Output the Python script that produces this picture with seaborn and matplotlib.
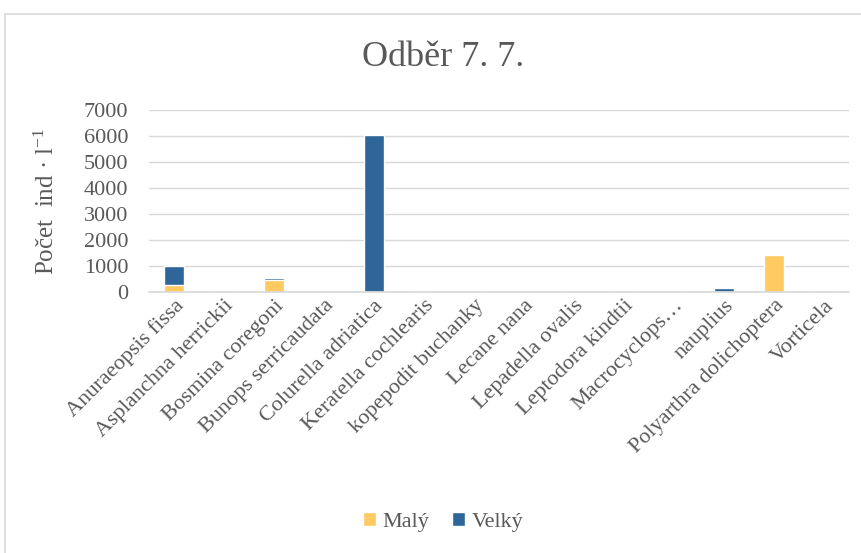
import pandas as pd
import matplotlib
matplotlib.use("Agg")
import matplotlib.pyplot as plt
import seaborn as sns
from matplotlib.patches import Rectangle, Patch


# =========================================
# Data
# =========================================

categories = [
    "Anuraeopsis fissa",
    "Asplanchna herrickii",
    "Bosmina coregoni",
    "Bunops serricaudata",
    "Colurella adriatica",
    "Keratella cochlearis",
    "kopepodit buchanky",
    "Lecane nana",
    "Lepadella ovalis",
    "Leptodora kindtii",
    "Macrocyclops…",
    "nauplius",
    "Polyarthra dolichoptera",
    "Vorticela",
]

maly = [260, 70, 480, 0, 0, 10, 0, 0, 0, 0, 5, 0, 1410, 5]
velky = [740, 30, 40, 0, 6040, 10, 0, 0, 0, 0, 5, 140, 50, 5]

df = pd.DataFrame({
    "druh": categories,
    "Malý": maly,
    "Velký": velky,
})
df["celkem"] = df["Malý"] + df["Velký"]

yellow = "#FFCA62"
blue = "#2E6699"
text_gray = "#595959"


# =========================================
# Style
# =========================================

sns.set_theme(style="white")
plt.rcParams["font.family"] = ["Liberation Serif", "DejaVu Serif"]
plt.rcParams["mathtext.fontset"] = "custom"
plt.rcParams["mathtext.rm"] = "Liberation Serif"
plt.rcParams["mathtext.it"] = "Liberation Serif"


# =========================================
# Plot
# =========================================

fig = plt.figure(figsize=(8.61, 5.53), dpi=100)
ax = fig.add_axes([149 / 861, 1 - 292 / 553, 700 / 861, 182 / 553])

# stacked: total in blue, Malý drawn over it from zero
sns.barplot(data=df, x="druh", y="celkem", color=blue,
            saturation=1, width=0.4, ax=ax)
sns.barplot(data=df, x="druh", y="Malý", color=yellow,
            saturation=1, width=0.4, ax=ax)

ax.set_ylim(0, 7000)
ax.set_yticks(range(0, 7001, 1000))
ax.yaxis.grid(True, color="#D9D9D9", linewidth=1)
ax.set_axisbelow(True)

for side in ["top", "right", "left"]:
    ax.spines[side].set_visible(False)
ax.spines["bottom"].set_color("#D9D9D9")

ax.tick_params(axis="y", length=0, labelsize=16,
               labelcolor=text_gray, pad=15)
ax.tick_params(axis="x", length=0, pad=3)
ax.set_xticks(range(len(categories)))
ax.set_xticklabels(categories, rotation=45, ha="right",
                   rotation_mode="anchor", fontsize=16, color=text_gray)

ax.set_xlabel("")
ax.set_ylabel("Počet  ind · l$^{-1}$", fontsize=18, color=text_gray,
              labelpad=18)

# chart area is wider than the crop, so its centre sits right of 0.5
chart_cx = 443 / 861

fig.text(chart_cx, 1 - 57 / 553, "Odběr 7. 7.", ha="center", va="center",
         fontsize=26, color=text_gray)

handles = [Patch(facecolor=yellow, label="Malý"),
           Patch(facecolor=blue, label="Velký")]
fig.legend(handles=handles, loc="center", ncol=2, frameon=False,
           bbox_to_anchor=(chart_cx, 1 - 522 / 553), fontsize=16,
           labelcolor=text_gray, handlelength=0.6, handleheight=0.6,
           handletextpad=0.3, columnspacing=1.0)

# chart border
fig.patches.append(Rectangle((5 / 861, -0.1), 1.1, 1 - 14 / 553 + 0.1,
                             transform=fig.transFigure, fill=False,
                             edgecolor="#D9D9D9", linewidth=1.2))

fig.savefig("out.png", dpi=100)
